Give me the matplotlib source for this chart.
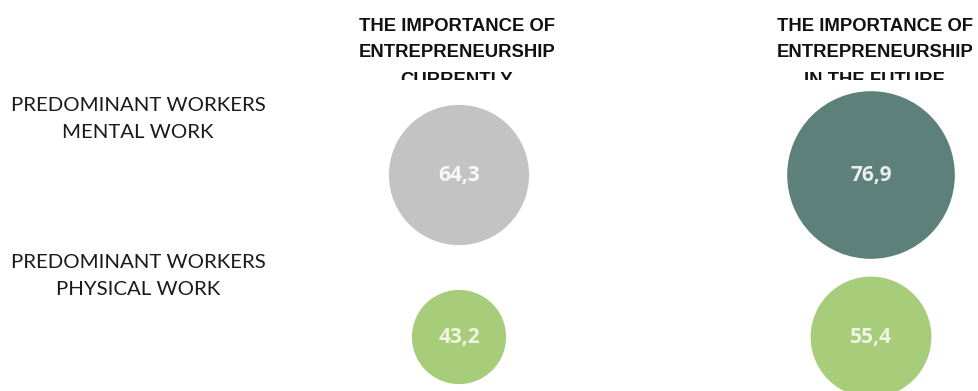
import matplotlib
matplotlib.use("Agg")
import matplotlib.pyplot as plt
from matplotlib.patches import Circle
from matplotlib.transforms import Bbox, TransformedBbox

# ---- data ----
row_labels = ["PREDOMINANT WORKERS\nMENTAL WORK", "PREDOMINANT WORKERS\nPHYSICAL WORK"]
col_labels = ["THE IMPORTANCE OF\nENTREPRENEURSHIP\nCURRENTLY",
              "THE IMPORTANCE OF\nENTREPRENEURSHIP\nIN THE FUTURE"]
current_values = [64.3, 43.2]
future_values = [76.9, 55.4]
value_labels_current = ["64,3", "43,2"]
value_labels_future = ["76,9", "55,4"]

# ---- style / layout ----
W, H = 979, 391
fig = plt.figure(figsize=(W / 100, H / 100), dpi=100)
ax = fig.add_axes([0, 0, 1, 1])
ax.set_xlim(0, W)
ax.set_ylim(H, 0)
ax.set_aspect("equal")
ax.axis("off")

col_x = [459, 871]
row_y = [175, 337]
scale = 1.09  # radius in pixels per unit value

fill = {
    (0, 0): "#c3c3c3", (1, 0): "#a7cd7b",
    (0, 1): "#5e807b", (1, 1): "#a7cd7b",
}
txtc = {
    (0, 0): "#f8f8f8", (1, 0): "#eef6e2",
    (0, 1): "#e8efec", (1, 1): "#eef6e2",
}

series = [(current_values, value_labels_current), (future_values, value_labels_future)]
for c, (vals, labs) in enumerate(series):
    for r, (v, lab) in enumerate(zip(vals, labs)):
        circ = Circle((col_x[c], row_y[r]), v * scale, facecolor=fill[(r, c)],
                      edgecolor="none", clip_on=False)
        ax.add_patch(circ)
        ax.text(col_x[c], row_y[r], lab, ha="center", va="center",
                fontsize=15, fontweight="bold", family="Open Sans",
                color=txtc[(r, c)])

# column headers (clipped like the original)
clip_box = TransformedBbox(Bbox.from_extents(0, 0, W, 80), ax.transData)
header_baselines = [31, 57, 85]
for c, lab in enumerate(col_labels):
    for i, line in enumerate(lab.split("\n")):
        t = ax.text(col_x[c] + (4 if c == 1 else -2), header_baselines[i], line,
                    ha="center", va="baseline", fontsize=13.3, fontweight="bold",
                    family="Liberation Sans", color="#111111")
        t.set_clip_path(None)
        t.set_clip_box(clip_box)
        t.set_clip_on(True)

# row labels
row_baselines = [(111, 138), (268, 295)]
for r, lab in enumerate(row_labels):
    for i, line in enumerate(lab.split("\n")):
        ax.text(138, row_baselines[r][i], line, ha="center", va="baseline",
                fontsize=14.7, family="Lato", color="#1a1a1a")

fig.savefig("out.png", dpi=100)
